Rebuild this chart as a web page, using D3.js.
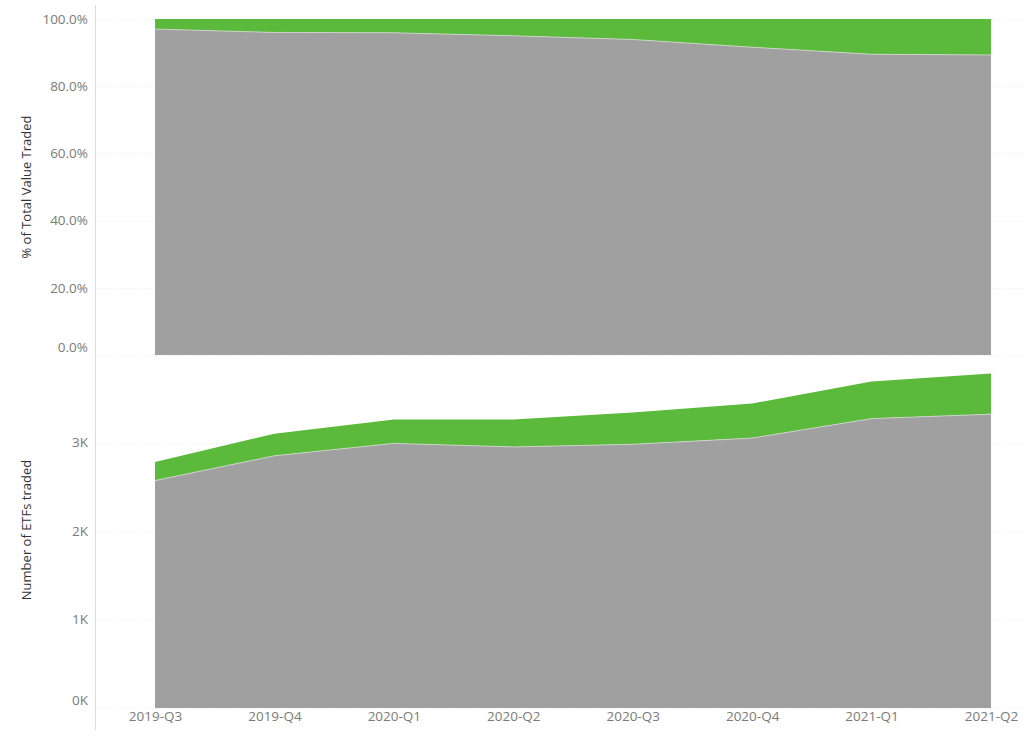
<!DOCTYPE html>
<html lang="en">
<head>
	<meta charset="utf-8">
	<title>ETF trading</title>
	<style>
		body { margin: 0; background: #fff; }
		.axis text { font-family: "Open Sans", sans-serif; font-size: 13.5px; fill: #7a7a7a; }
		.title { font-family: "Open Sans", sans-serif; font-size: 13px; fill: #333; }
	</style>
	<script src="https://cdn.jsdelivr.net/npm/d3@7"></script>
</head>
<body>
	<script>
		var quarters = ["2019-Q3", "2019-Q4", "2020-Q1", "2020-Q2", "2020-Q3", "2020-Q4", "2021-Q1", "2021-Q2"];
		// share of total value traded (%), grey = other, green = highlighted group
		var shareGrey = [97.0, 96.0, 95.9, 95.0, 93.9, 91.6, 89.5, 89.3];
		var shareGreen = shareGrey.map(v => 100 - v);
		// number of ETFs traded (thousands)
		var countGrey = [2.57, 2.85, 2.99, 2.95, 2.98, 3.05, 3.27, 3.32];
		var countGreen = [0.21, 0.25, 0.27, 0.31, 0.36, 0.39, 0.42, 0.46];
		var pctTicks = [0, 20, 40, 60, 80, 100];
		var countTicks = [0, 1, 2, 3];

		var w = 1024, h = 739;
		var grey = "#a0a0a0", green = "#5bb93b";

		var svg = d3.select("body").append("svg")
			.attr("width", w)
			.attr("height", h);

		var x = d3.scalePoint()
			.domain(quarters)
			.range([155, 991]);

		var yTop = d3.scaleLinear().domain([0, 100]).range([355, 19]);
		var yBot = d3.scaleLinear().domain([0, 3]).range([708, 442.5]);

		function drawPanel(y, greyVals, greenVals, ticks, fmt) {
			var rows = quarters.map((q, i) => ({ q: q, grey: greyVals[i], green: greenVals[i] }));
			var series = d3.stack().keys(["grey", "green"])(rows);

			// gridlines
			svg.append("g").selectAll("line")
				.data(ticks)
				.enter()
				.append("line")
				.attr("x1", 96).attr("x2", w)
				.attr("y1", d => Math.round(y(d)) + 0.5)
				.attr("y2", d => Math.round(y(d)) + 0.5)
				.attr("stroke", "#ececec")
				.attr("stroke-dasharray", "1,2");

			var area = d3.area()
				.x(d => x(d.data.q))
				.y0(d => y(d[0]))
				.y1(d => y(d[1]));

			svg.append("g").selectAll("path")
				.data(series)
				.enter()
				.append("path")
				.attr("d", area)
				.attr("fill", (d, i) => i === 0 ? grey : green);

			// thin light edge between the two bands
			svg.append("path")
				.datum(series[0])
				.attr("d", d3.line().x(d => x(d.data.q)).y(d => y(d[1])))
				.attr("fill", "none")
				.attr("stroke", "#d8d8d8")
				.attr("stroke-width", 0.8);

			var axis = d3.axisLeft(y)
				.tickValues(ticks)
				.tickFormat(fmt)
				.tickSize(0)
				.tickPadding(8);
			var g = svg.append("g")
				.attr("class", "axis")
				.attr("transform", "translate(96,0)")
				.call(axis);
			g.select(".domain").remove();
			// lowest label is nudged up, as in the original
			g.selectAll(".tick text")
				.filter(d => d === 0)
				.attr("dy", "-0.25em");
		}

		drawPanel(yTop, shareGrey, shareGreen, pctTicks, d => d.toFixed(1) + "%");
		drawPanel(yBot, countGrey, countGreen, countTicks, d => d + "K");

		// x axis
		var xAxis = d3.axisBottom(x).tickSize(0).tickPadding(5);
		var gx = svg.append("g")
			.attr("class", "axis")
			.attr("transform", "translate(0,706)")
			.call(xAxis);
		gx.select(".domain").remove();

		// vertical axis line
		svg.append("line")
			.attr("x1", 95.5).attr("x2", 95.5)
			.attr("y1", 5).attr("y2", 730)
			.attr("stroke", "#dcdcdc");

		// axis titles
		svg.append("text")
			.attr("class", "title")
			.attr("transform", "translate(31,187) rotate(-90)")
			.attr("text-anchor", "middle")
			.text("% of Total Value Traded");
		svg.append("text")
			.attr("class", "title")
			.attr("transform", "translate(31,530) rotate(-90)")
			.attr("text-anchor", "middle")
			.text("Number of ETFs traded");
	</script>
</body>
</html>
